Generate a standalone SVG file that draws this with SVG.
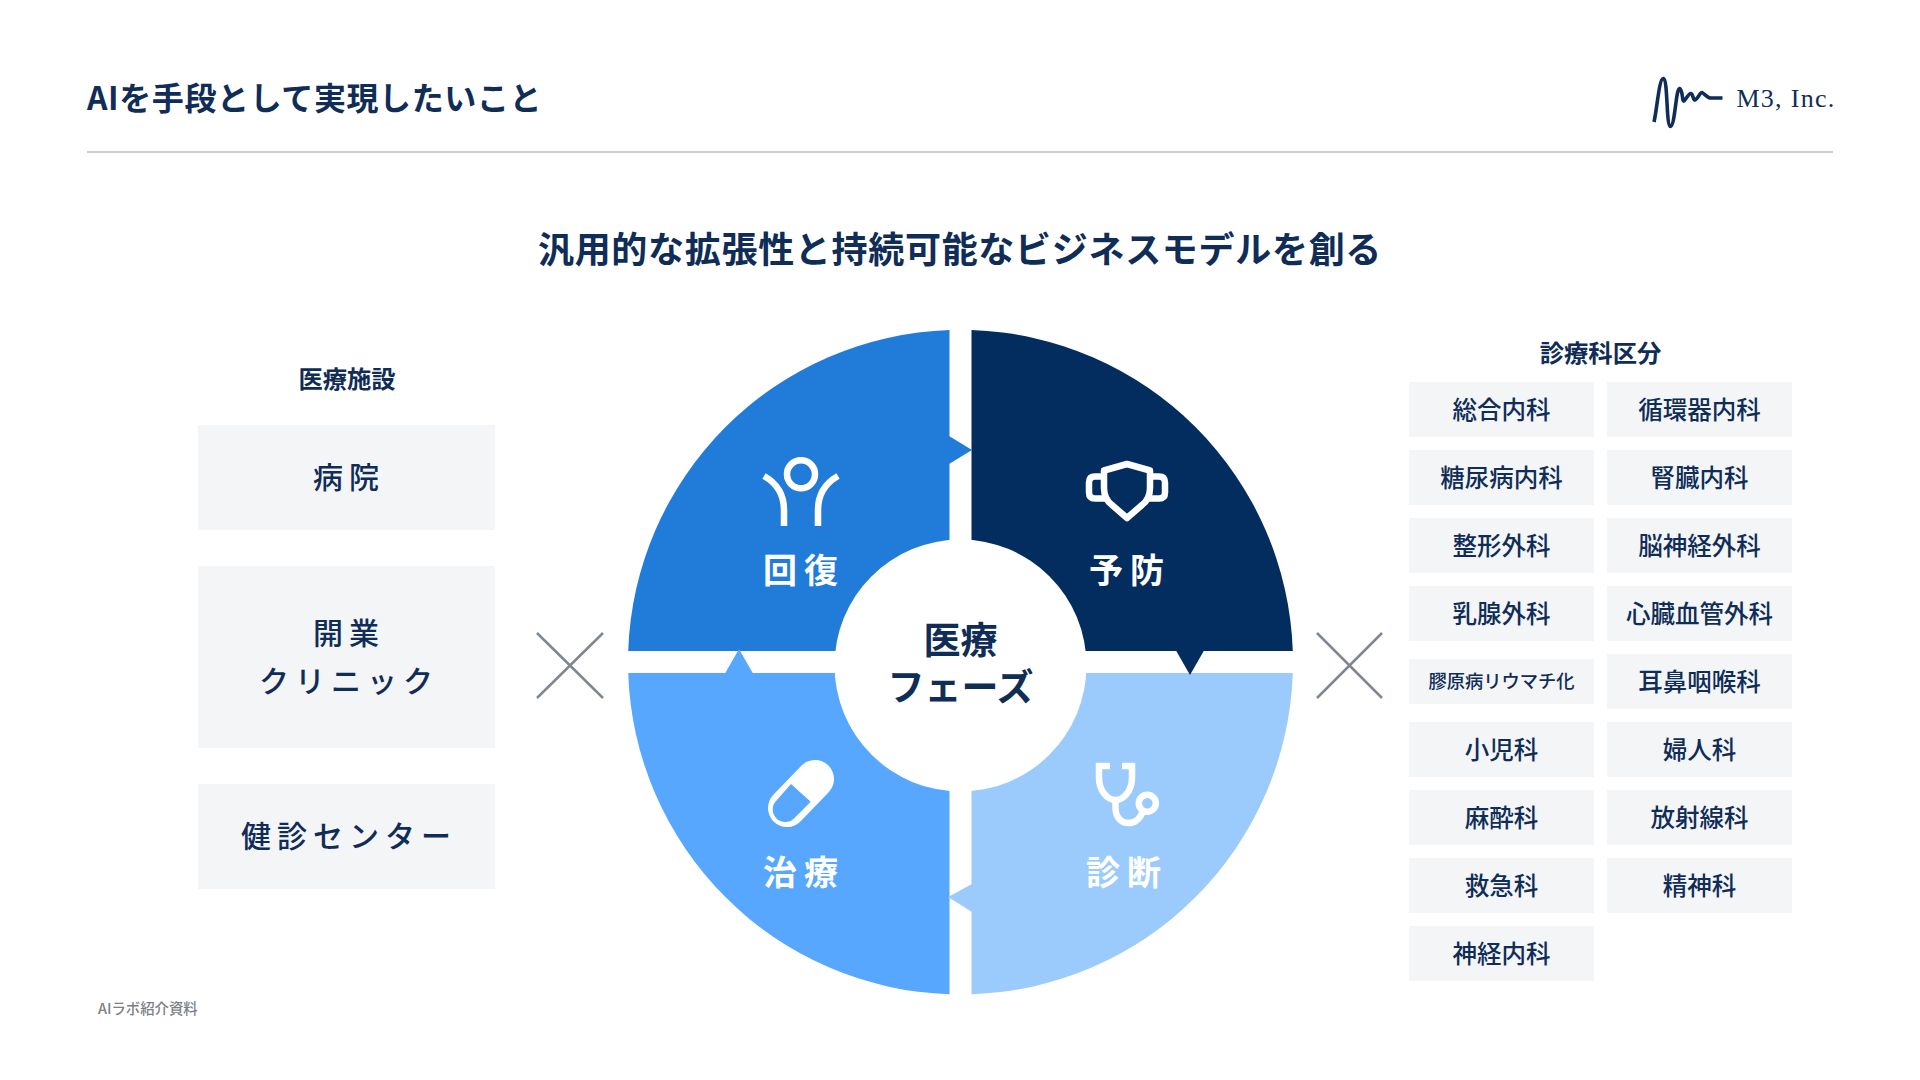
<svg xmlns="http://www.w3.org/2000/svg" width="1920" height="1080" viewBox="0 0 1920 1080">
<style>
text{font-family:"Noto Sans CJK JP","Noto Sans",sans-serif;fill:#0f2d57;text-anchor:middle}
.b{font-weight:700}
.box{fill:#f4f5f7}
.d{font-size:24.5px;font-weight:500}
.f{font-size:30px;font-weight:500;letter-spacing:6px}
.w{font-size:34px;font-weight:700;fill:#fff;letter-spacing:7px}
.ic{fill:none;stroke:#fff;stroke-width:6.5}
.x{stroke:#7f8790;stroke-width:2.5;fill:none}
</style>
<rect width="1920" height="1080" fill="#fff"/>
<g id="header">
<text class="b" x="87" y="110" font-size="32" style="text-anchor:start;letter-spacing:.6px">AIを手段として実現したいこと</text>
<path d="M87 152H1833" stroke="#9a9da1" stroke-width="1.2"/>
<path d="M1654 122C1657 110 1659 78 1663.5 78.5C1668 80 1666 126 1670.5 126.5C1675 126 1676 88 1679.5 88.5C1683 90 1682 102 1684 101C1687 98 1689 93 1691 93.5C1693 94 1693 100 1695 100C1698 99 1700 92 1702 92.5C1705 94 1707 98 1711 98L1722.5 98" fill="none" stroke="#0f2d57" stroke-width="3.6"/>
<text x="1786" y="107" style="font-family:'Liberation Serif',serif;font-size:26px;letter-spacing:1.3px">M3, Inc.</text>
</g>
<text id="subtitle" class="b" x="960" y="263" font-size="36" style="letter-spacing:.7px">汎用的な拡張性と持続可能なビジネスモデルを創る</text>
<g id="facilities">
<text class="b" x="347" y="388" font-size="24.3">医療施設</text>
<g id="f1"><rect class="box" x="198" y="425" width="297" height="105"/><text class="f" x="349" y="488">病院</text></g>
<g id="f2"><rect class="box" x="198" y="566" width="297" height="182"/><text class="f" x="349" y="644">開業</text><text class="f" x="349" y="692">クリニック</text></g>
<g id="f3"><rect class="box" x="198" y="784" width="297" height="105"/><text class="f" x="349" y="847">健診センター</text></g>
</g>
<g id="crosses">
<path class="x" d="M537 633L603 698M603 633L537 698"/>
<path class="x" d="M1317 633L1382 698M1382 633L1317 698"/>
</g>
<g id="wheel">
<path id="seg-yobo" fill="#022d5e" d="M971.5 330A332.5 332.5 0 0 1 1292.8 651H971.5Z"/>
<path id="seg-kaifuku" fill="#217cd9" d="M949.5 330A332.5 332.5 0 0 0 628.2 651H949.5Z"/>
<path id="seg-chiryo" fill="#56a7fd" d="M949.5 994.3A332.5 332.5 0 0 1 628.2 673H949.5Z"/>
<path id="seg-shindan" fill="#9bcbfc" d="M971.5 994.3A332.5 332.5 0 0 0 1292.8 673H971.5Z"/>
<g id="connectors">
<path fill="#217cd9" d="M949 436L972 450L949 464Z"/>
<path fill="#022d5e" d="M1176 650.5L1190 675L1204 650.5Z"/>
<path fill="#9bcbfc" d="M972 884L948 897L972 912Z"/>
<path fill="#56a7fd" d="M725 673.5L739 649L753 673.5Z"/>
</g>
<circle cx="960.5" cy="665.5" r="126" fill="#fff"/>
</g>
<g id="center"><text class="b" x="960.5" y="654" font-size="37">医療</text><text class="b" x="960.5" y="701" font-size="37">フェーズ</text></g>
<g id="kaifuku">
<circle class="ic" cx="801" cy="474.3" r="14"/>
<path class="ic" d="M764 476C778 484 784 495 784 510V526M838 476C824 484 818 495 818 510V526"/>
<text class="w" x="804" y="583">回復</text>
</g>
<g id="yobo">
<path class="ic" stroke-linejoin="round" d="M1127 464L1104 470.5V488Q1104 499 1112 505L1127 518L1142 505Q1150 499 1150 488V470.5Z"/>
<path class="ic" d="M1104 476.5H1095Q1089 476.5 1089 482.5V492.5Q1089 498.5 1095 498.5H1105M1150 476.5H1159Q1165 476.5 1165 482.5V492.5Q1165 498.5 1159 498.5H1149"/>
<text class="w" x="1130" y="583">予防</text>
</g>
<g id="chiryo">
<path d="M815 779L787 808" stroke="#fff" stroke-width="38" stroke-linecap="round"/>
<path fill="#56a7fd" d="M791 784L810.7 801.7L794 818.5A12.5 12.5 0 0 1 776.5 800.5Z"/>
<text class="w" x="804" y="885">治療</text>
</g>
<g id="shindan">
<path class="ic" d="M1110 766H1099V778C1099 790 1107 800 1115.5 800C1124 800 1132 790 1132 778V766H1122M1115.5 800V808C1115.5 817 1121 823 1128 823C1136 823 1140 819 1143 811"/>
<circle class="ic" cx="1147.3" cy="803.3" r="8.5"/>
<text class="w" x="1127" y="885">診断</text>
</g>
<g id="departments">
<text class="b" x="1600.5" y="362" font-size="24.3">診療科区分</text>
<g id="d1"><rect class="box" x="1409" y="382" width="185" height="55"/><text class="d" x="1501.5" y="419">総合内科</text></g>
<g id="d2"><rect class="box" x="1409" y="450" width="185" height="55"/><text class="d" x="1501.5" y="487">糖尿病内科</text></g>
<g id="d3"><rect class="box" x="1409" y="518" width="185" height="55"/><text class="d" x="1501.5" y="555">整形外科</text></g>
<g id="d4"><rect class="box" x="1409" y="586" width="185" height="55"/><text class="d" x="1501.5" y="623">乳腺外科</text></g>
<g id="d5"><rect class="box" x="1409" y="659" width="185" height="45"/><text class="d" x="1501.5" y="688" style="font-size:18.3px">膠原病リウマチ化</text></g>
<g id="d6"><rect class="box" x="1409" y="722" width="185" height="55"/><text class="d" x="1501.5" y="759">小児科</text></g>
<g id="d7"><rect class="box" x="1409" y="790" width="185" height="55"/><text class="d" x="1501.5" y="827">麻酔科</text></g>
<g id="d8"><rect class="box" x="1409" y="858" width="185" height="55"/><text class="d" x="1501.5" y="895">救急科</text></g>
<g id="d9"><rect class="box" x="1409" y="926" width="185" height="55"/><text class="d" x="1501.5" y="963">神経内科</text></g>
<g id="d10"><rect class="box" x="1607" y="382" width="185" height="55"/><text class="d" x="1699.5" y="419">循環器内科</text></g>
<g id="d11"><rect class="box" x="1607" y="450" width="185" height="55"/><text class="d" x="1699.5" y="487">腎臓内科</text></g>
<g id="d12"><rect class="box" x="1607" y="518" width="185" height="55"/><text class="d" x="1699.5" y="555">脳神経外科</text></g>
<g id="d13"><rect class="box" x="1607" y="586" width="185" height="55"/><text class="d" x="1699.5" y="623">心臓血管外科</text></g>
<g id="d14"><rect class="box" x="1607" y="654" width="185" height="55"/><text class="d" x="1699.5" y="691">耳鼻咽喉科</text></g>
<g id="d15"><rect class="box" x="1607" y="722" width="185" height="55"/><text class="d" x="1699.5" y="759">婦人科</text></g>
<g id="d16"><rect class="box" x="1607" y="790" width="185" height="55"/><text class="d" x="1699.5" y="827">放射線科</text></g>
<g id="d17"><rect class="box" x="1607" y="858" width="185" height="55"/><text class="d" x="1699.5" y="895">精神科</text></g>
</g>
<text id="footer" x="98" y="1014" font-size="14.4" style="text-anchor:start;fill:#7b7f85;font-weight:500">AIラボ紹介資料</text>
</svg>
